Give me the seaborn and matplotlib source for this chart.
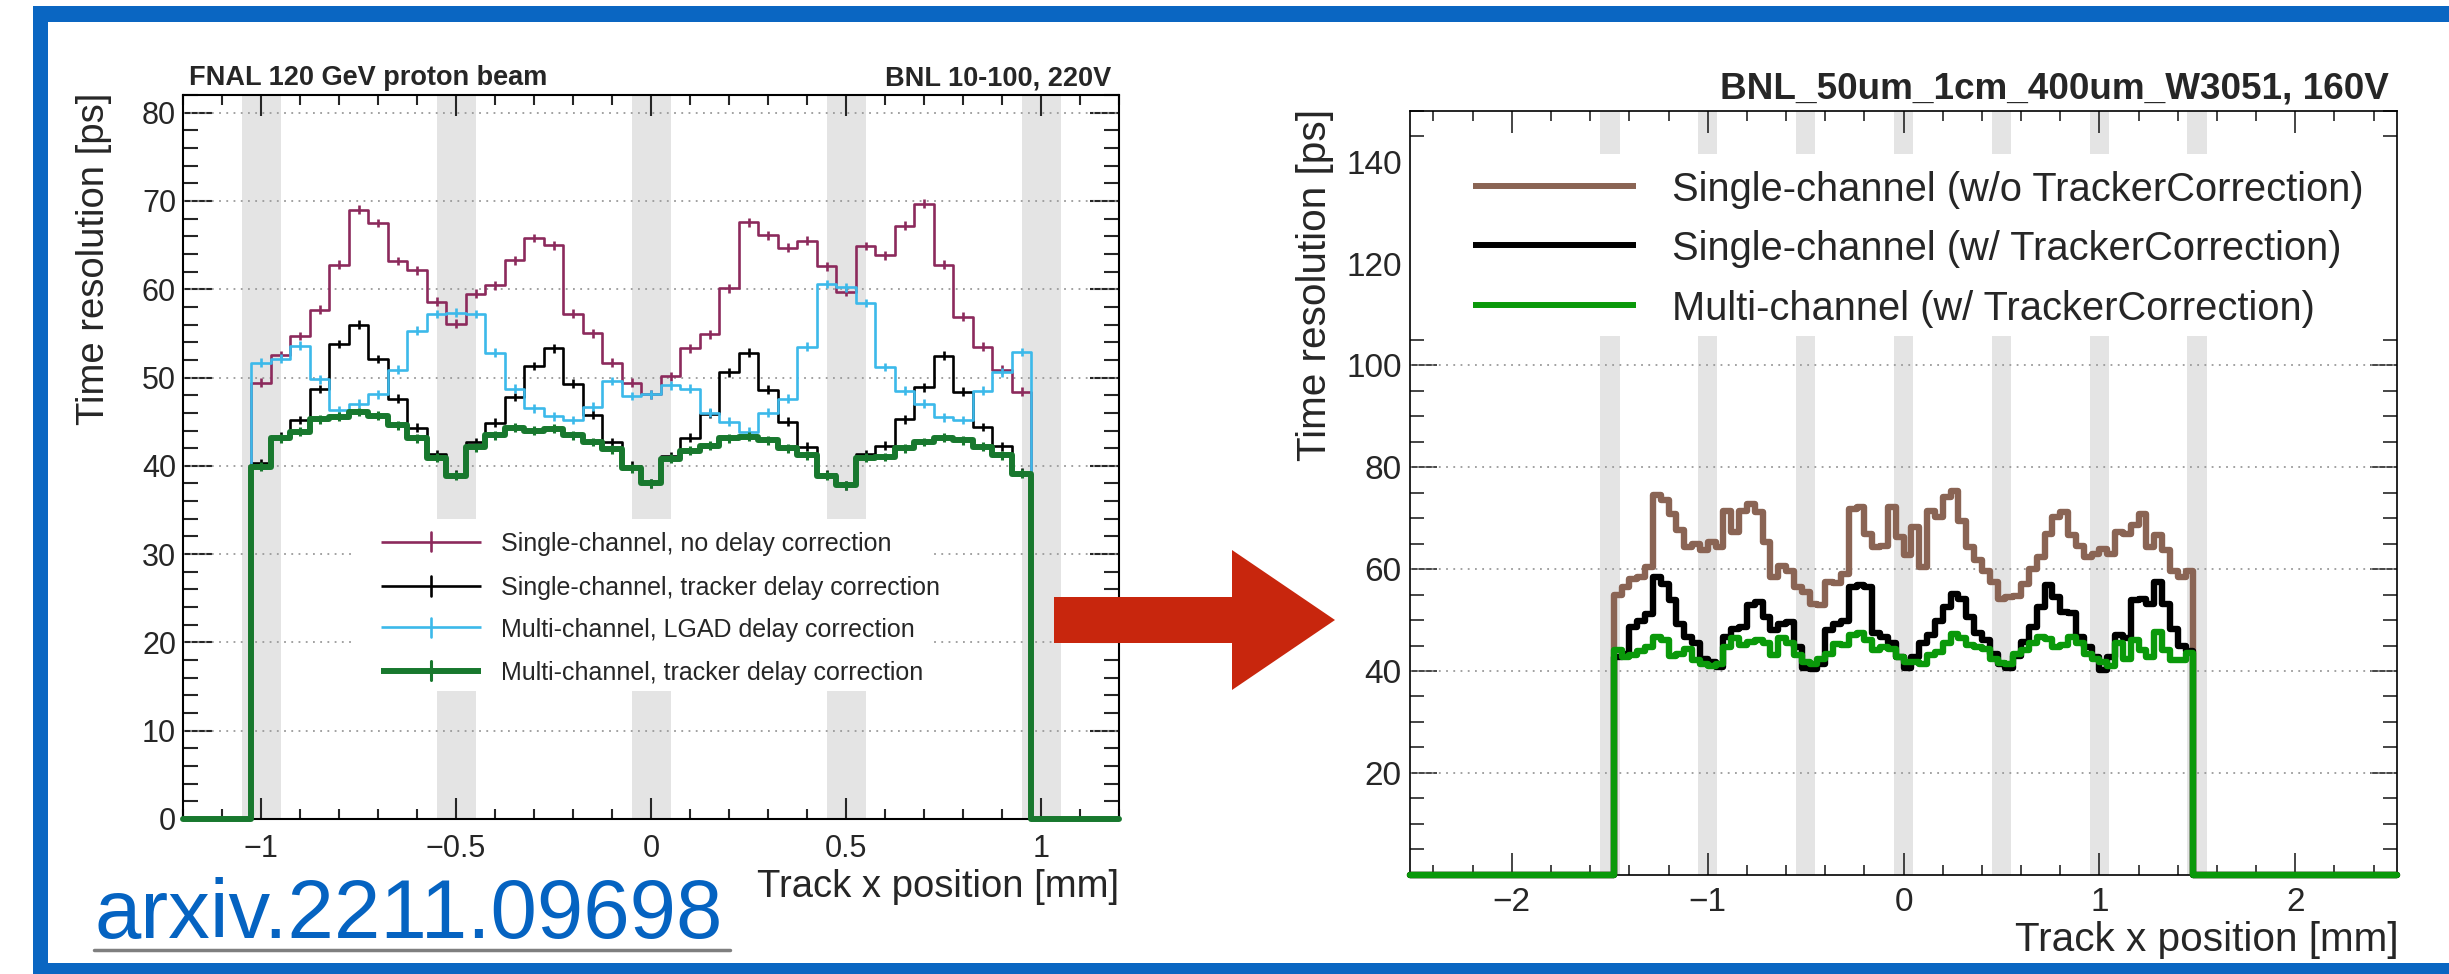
import numpy as np
import matplotlib
matplotlib.use("Agg")
import matplotlib.pyplot as plt
import seaborn as sns
from matplotlib import font_manager as fm
from matplotlib.ticker import MultipleLocator
from matplotlib.patches import Rectangle, Polygon

# ------------------------------------------------------------------
# Data: left panel (FNAL 120 GeV proton beam, BNL 10-100, 220V)
# 40 bins of 0.05 mm starting at -1.025 mm
# ------------------------------------------------------------------
L_FIRST_EDGE = -1.025
L_BIN_W = 0.05
L_SINGLE_NODELAY = [49.4, 52.5, 54.7, 57.7, 62.8, 69.0, 67.5, 63.2, 62.15, 58.6,
                    56.1, 59.5, 60.45, 63.3, 65.8, 65.0, 57.25, 55.0, 51.7, 49.4,
                    48.1, 50.15, 53.3, 54.9, 60.1, 67.6, 66.1, 64.7, 65.5, 62.6,
                    59.7, 64.9, 63.85, 67.2, 69.7, 62.8, 56.9, 53.5, 50.9, 48.4]
L_SINGLE_TRACKER = [40.3, 43.3, 45.2, 48.7, 53.8, 56.0, 52.1, 47.6, 44.3, 41.3,
                    39.0, 42.7, 44.9, 47.8, 51.3, 53.3, 49.3, 45.8, 42.7, 40.0,
                    38.0, 41.1, 43.2, 45.9, 50.6, 52.8, 48.6, 45.0, 42.15, 39.05,
                    37.8, 41.3, 42.3, 45.25, 48.9, 52.45, 48.4, 44.4, 42.2, 39.2]
L_MULTI_LGAD = [51.7, 52.15, 53.6, 49.8, 46.3, 47.05, 48.1, 50.9, 55.3, 57.2,
                57.35, 57.2, 52.8, 48.75, 46.5, 45.6, 45.2, 46.7, 49.6, 47.9,
                48.1, 49.1, 48.75, 46.0, 45.0, 43.85, 46.0, 47.6, 53.5, 60.6,
                60.2, 58.45, 51.2, 48.5, 47.05, 45.5, 45.2, 48.5, 50.6, 52.9]
L_MULTI_TRACKER = [39.9, 43.1, 43.85, 45.25, 45.55, 46.1, 45.7, 44.6, 43.1, 40.9,
                   38.9, 42.1, 43.45, 44.3, 44.0, 44.2, 43.45, 42.7, 41.85, 39.7,
                   38.0, 40.8, 41.7, 42.3, 43.1, 43.3, 42.9, 42.0, 41.2, 38.9,
                   37.8, 40.9, 41.0, 42.0, 42.7, 43.2, 42.9, 42.15, 41.2, 39.1]
L_ERR = 0.5
L_LABELS = ["Single-channel, no delay correction",
            "Single-channel, tracker delay correction",
            "Multi-channel, LGAD delay correction",
            "Multi-channel, tracker delay correction"]
L_XTICKS = [-1, -0.5, 0, 0.5, 1]
L_XTICKLABELS = ["\u22121", "\u22120.5", "0", "0.5", "1"]
L_YTICKS = [0, 10, 20, 30, 40, 50, 60, 70, 80]
L_YTICKLABELS = ["0", "10", "20", "30", "40", "50", "60", "70", "80"]
L_BANDS = [-1.0, -0.5, 0.0, 0.5, 1.0]

# ------------------------------------------------------------------
# Data: right panel (BNL_50um_1cm_400um_W3051, 160V)
# 74 bins of 0.04 mm starting at -1.48 mm
# ------------------------------------------------------------------
R_FIRST_EDGE = -1.48
R_BIN_W = 0.04
R_SINGLE_WO = [55.0, 56.5, 58.0, 58.5, 60.5, 74.5, 73.5, 70.9, 67.6, 64.4,
               64.9, 63.7, 65.3, 64.3, 71.5, 67.3, 71.5, 72.8, 71.2, 65.3,
               58.4, 60.7, 59.7, 56.5, 55.5, 53.2, 52.9, 57.5, 57.2, 59.1,
               71.8, 72.2, 66.9, 64.3, 64.6, 72.2, 66.3, 62.7, 68.2, 60.4,
               71.5, 70.2, 74.1, 75.4, 69.5, 64.3, 61.7, 59.7, 57.5, 54.2,
               54.5, 54.8, 57.1, 60.1, 62.4, 66.9, 70.2, 71.2, 66.6, 64.6,
               62.4, 63.0, 64.0, 63.0, 67.3, 66.9, 68.6, 70.9, 64.3, 66.6,
               63.7, 59.7, 58.4, 59.7]
R_SINGLE_W = [42.7, 43.4, 48.6, 49.9, 51.2, 58.4, 57.1, 53.9, 49.3, 46.7,
              45.4, 42.4, 41.8, 40.8, 46.7, 48.3, 48.6, 53.0, 53.5, 50.6,
              48.0, 49.3, 49.6, 44.7, 40.5, 40.3, 41.4, 48.0, 49.3, 49.9,
              56.5, 56.8, 56.5, 47.4, 46.7, 45.4, 42.7, 40.5, 42.7, 45.4,
              47.1, 49.9, 52.6, 55.1, 54.2, 50.6, 47.4, 46.0, 43.4, 41.4,
              40.5, 43.0, 45.7, 48.6, 52.6, 56.8, 54.5, 51.6, 51.3, 46.7,
              44.7, 42.7, 40.2, 42.7, 47.1, 46.4, 54.0, 54.2, 53.2, 57.5,
              53.2, 48.3, 45.0, 44.0]
R_MULTI_W = [44.2, 42.8, 43.1, 44.0, 44.7, 46.7, 46.0, 42.9, 43.4, 44.4,
             42.1, 41.3, 40.9, 41.4, 44.7, 46.4, 45.1, 45.7, 46.0, 45.4,
             43.1, 46.4, 45.4, 43.1, 41.7, 41.4, 42.4, 43.4, 45.2, 45.1,
             47.0, 47.5, 46.0, 44.1, 44.7, 44.4, 42.8, 41.7, 41.7, 41.3,
             43.1, 43.8, 45.4, 47.3, 46.4, 45.1, 44.7, 44.4, 42.4, 41.6,
             41.4, 43.3, 44.1, 45.5, 46.7, 46.2, 44.7, 45.1, 46.7, 45.4,
             43.4, 42.4, 41.7, 40.9, 45.4, 42.4, 46.0, 44.1, 42.8, 47.6,
             44.1, 42.1, 42.1, 43.5]
R_LABELS = ["Single-channel (w/o TrackerCorrection)",
            "Single-channel (w/ TrackerCorrection)",
            "Multi-channel (w/ TrackerCorrection)"]
R_XTICKS = [-2, -1, 0, 1, 2]
R_XTICKLABELS = ["\u22122", "\u22121", "0", "1", "2"]
R_YTICKS = [20, 40, 60, 80, 100, 120, 140]
R_YTICKLABELS = ["20", "40", "60", "80", "100", "120", "140"]
R_BANDS = [-1.5, -1.0, -0.5, 0.0, 0.5, 1.0, 1.5]

# ------------------------------------------------------------------
# Style
# ------------------------------------------------------------------
W, H, DPI = 2449, 974, 100
BLUE = "#0a66c2"
LINK = "#0563c1"
RED = "#c8260d"
BAND = "#e4e4e4"
GRID = "#9a9a9a"
C_PURPLE = "#8c2a5c"
C_CYAN = "#3cb9ea"
C_DKGREEN = "#18782e"
C_BROWN = "#8a6454"
C_GREEN = "#0a990a"

sns.set_style("white")
plt.rcParams["font.family"] = ["Liberation Sans", "DejaVu Sans"]

# narrow font (used for the condensed-looking texts), with fallback
_names = {f.name for f in fm.fontManager.ttflist}
if "Liberation Sans Narrow" in _names:
    NARROW = ["Liberation Sans Narrow", "Liberation Sans"]
    FS_LTITLE, FS_LLEG, FS_LINK = 21.5, 21.0, 72.0
else:
    NARROW = ["Liberation Sans", "DejaVu Sans"]
    FS_LTITLE, FS_LLEG, FS_LINK = 19.5, 18.0, 60.0

fig = plt.figure(figsize=(W / DPI, H / DPI), dpi=DPI)
fig.patch.set_facecolor("white")


def overlay(z):
    a = fig.add_axes([0, 0, 1, 1], zorder=z)
    a.set_xlim(0, W)
    a.set_ylim(H, 0)
    a.axis("off")
    a.patch.set_alpha(0)
    return a


bg = overlay(0)


def px_axes(x0, y0, x1, y1):
    return fig.add_axes([x0 / W, 1 - y1 / H, (x1 - x0) / W, (y1 - y0) / H], zorder=1)


axL = px_axes(183, 95, 1119, 819)
axR = px_axes(1410, 110.7, 2397, 874.7)
top = overlay(5)


def step_hist(ax, first_edge, width, values, lim, color, lw, z):
    n = len(values)
    inner = first_edge + width * np.arange(n + 1)
    edges = np.concatenate([[lim[0]], inner, [lim[1]]])
    heights = np.concatenate([[0.0], np.asarray(values, float), [0.0]])
    centers = 0.5 * (edges[:-1] + edges[1:])
    sns.histplot(x=centers, weights=heights, bins=edges.tolist(), element="step",
                 fill=False, color=color, linewidth=lw, zorder=z,
                 clip_on=False, ax=ax)
    return inner[:-1] + width / 2


def style_axes(ax, xlim, ylim, xt, xtl, yt, ytl, xminor, yminor,
               xlen, ylen, fs, xpad, ypad, frame_lw):
    ax.set_xlim(*xlim)
    ax.set_ylim(*ylim)
    ax.set_xticks(xt)
    ax.set_xticklabels(xtl)
    ax.set_yticks(yt)
    ax.set_yticklabels(ytl)
    ax.xaxis.set_minor_locator(MultipleLocator(xminor))
    ax.yaxis.set_minor_locator(MultipleLocator(yminor))
    ax.tick_params(axis="x", which="major", direction="in", length=xlen[0],
                   width=frame_lw, top=True, bottom=True, labelsize=fs, pad=xpad)
    ax.tick_params(axis="x", which="minor", direction="in", length=xlen[1],
                   width=frame_lw, top=True, bottom=True)
    ax.tick_params(axis="y", which="major", direction="in", length=ylen[0],
                   width=frame_lw, left=True, right=True, labelsize=fs, pad=ypad)
    ax.tick_params(axis="y", which="minor", direction="in", length=ylen[1],
                   width=frame_lw, left=True, right=True)
    ax.set_xlabel("")
    ax.set_ylabel("")
    ax.grid(False)
    for s in ax.spines.values():
        s.set_visible(True)
        s.set_color("black")
        s.set_linewidth(frame_lw)
    ax.set_facecolor("white")
    for y in yt:
        ax.axhline(y, color=GRID, lw=1.3, ls=(0, (1, 3)), zorder=0.8)


def finish_limits(ax, xlim, ylim):
    ax.set_xlim(*xlim)
    ax.set_ylim(*ylim)
    ax.set_xlabel("")
    ax.set_ylabel("")


# ---------------- left panel ----------------
style_axes(axL, (-1.2, 1.2), (0, 82), L_XTICKS, L_XTICKLABELS, L_YTICKS,
           L_YTICKLABELS, 0.1, 2, (15, 7.5), (21, 10.5), 22, 10.5, 5, 1.5)
for c in L_BANDS:
    axL.axvspan(c - 0.05, c + 0.05, color=BAND, lw=0, zorder=0.5)
axL.add_patch(Rectangle((-0.76, 14.5), 1.48, 19.5, facecolor="white",
                        edgecolor="none", zorder=1))

left_series = [(L_SINGLE_NODELAY, C_PURPLE, 1.9),
               (L_SINGLE_TRACKER, "black", 1.9),
               (L_MULTI_LGAD, C_CYAN, 1.9),
               (L_MULTI_TRACKER, C_DKGREEN, 4.3)]
for i, (vals, col, lw) in enumerate(left_series):
    ctr = step_hist(axL, L_FIRST_EDGE, L_BIN_W, vals, (-1.2, 1.2), col, lw, 3 + i)
    axL.errorbar(ctr, vals, yerr=L_ERR, fmt="none", ecolor=col,
                 elinewidth=min(lw, 2.2), capsize=0, zorder=3 + i)

L_LEG_Y = [31.4, 26.4, 21.7, 16.8]
for yy, lab, (vals, col, lw) in zip(L_LEG_Y, L_LABELS, left_series):
    axL.plot([-0.692, -0.436], [yy, yy], color=col, lw=lw, zorder=8,
             solid_capstyle="butt")
    axL.plot([-0.564, -0.564], [yy - 1.1, yy + 1.1], color=col,
             lw=min(lw, 2.2), zorder=8)
    axL.text(-0.385, yy, lab, fontsize=FS_LLEG, family=NARROW, ha="left",
             va="center_baseline", zorder=8)
finish_limits(axL, (-1.2, 1.2), (0, 82))

# ---------------- right panel ----------------
style_axes(axR, (-2.52, 2.52), (0, 150), R_XTICKS, R_XTICKLABELS, R_YTICKS,
           R_YTICKLABELS, 0.2, 5, (16, 7.5), (19.5, 10), 24, 8.5, 6, 1.2)
for c in R_BANDS:
    axR.axvspan(c - 0.05, c + 0.05, color=BAND, lw=0, zorder=0.5)
axR.add_patch(Rectangle((-2.52, 105.8), 5.04, 35.7, facecolor="white",
                        edgecolor="none", zorder=1))

right_series = [(R_SINGLE_WO, C_BROWN), (R_SINGLE_W, "black"), (R_MULTI_W, C_GREEN)]
for i, (vals, col) in enumerate(right_series):
    step_hist(axR, R_FIRST_EDGE, R_BIN_W, vals, (-2.52, 2.52), col, 4.6, 3 + i)

R_LEG_Y = [135.3, 123.7, 111.9]
for yy, lab, (vals, col) in zip(R_LEG_Y, R_LABELS, right_series):
    axR.plot([-2.198, -1.365], [yy, yy], color=col, lw=4.3, zorder=8,
             solid_capstyle="butt")
    axR.text(-1.181, yy, lab, fontsize=28.7, ha="left", va="center_baseline",
             zorder=8)
finish_limits(axR, (-2.52, 2.52), (0, 150))

# ---------------- titles & axis labels (pixel coordinates) ----------------
bg.text(189, 85, "FNAL 120 GeV proton beam", fontsize=FS_LTITLE,
        family=NARROW, fontweight="bold", ha="left", va="baseline")
bg.text(1111, 85, "BNL 10-100, 220V", fontsize=FS_LTITLE, family=NARROW,
        fontweight="bold", ha="right", va="baseline")
bg.text(94, 93, "Time resolution [ps]", fontsize=27.5, rotation=90,
        ha="center", va="top")
bg.text(1119, 897, "Track x position [mm]", fontsize=27.5, ha="right",
        va="baseline")

bg.text(2389, 99, "BNL_50um_1cm_400um_W3051, 160V", fontsize=26.6,
        fontweight="bold", ha="right", va="baseline")
bg.text(1315, 109, "Time resolution [ps]", fontsize=29.2, rotation=90,
        ha="center", va="top")
bg.text(2399, 951, "Track x position [mm]", fontsize=29.2, ha="right",
        va="baseline")

# ---------------- slide decorations ----------------
bg.add_patch(Rectangle((33, 6), W - 33, 16, color=BLUE, lw=0))
bg.add_patch(Rectangle((33, 6), 15, H - 6, color=BLUE, lw=0))
bg.add_patch(Rectangle((33, 963), W - 33, 11, color=BLUE, lw=0))

top.add_patch(Polygon([(1054, 597), (1232, 597), (1232, 550), (1335, 620),
                       (1232, 690), (1232, 643), (1054, 643)],
                      closed=True, color=RED, lw=0))

bg.text(94, 938, "arxiv.2211.09698", fontsize=FS_LINK, family=NARROW,
        color=LINK, ha="left", va="baseline")
bg.plot([94, 730], [950, 950], color="#7f7f7f", lw=2.5)

fig.savefig("out.png", dpi=DPI, facecolor="white")
